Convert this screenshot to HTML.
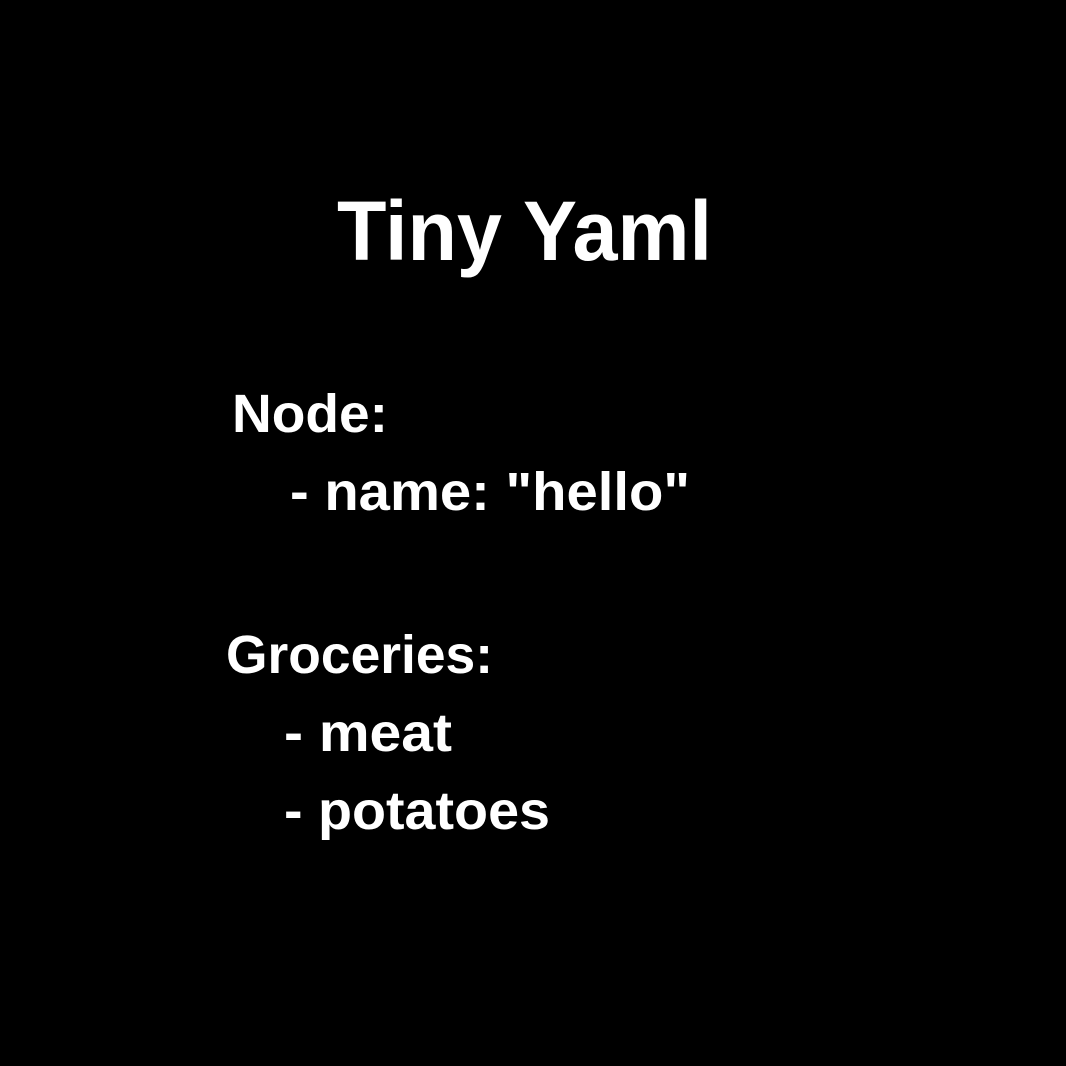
<!DOCTYPE html>
<html>
<head>
<meta charset="utf-8">
<style>
html,body{margin:0;padding:0;background:#000;}
svg{display:block;}
text{font-family:"Liberation Sans",sans-serif;font-weight:bold;fill:#fff;}
</style>
</head>
<body>
<svg width="1066" height="1066" viewBox="0 0 1066 1066" xmlns="http://www.w3.org/2000/svg">
<rect width="1066" height="1066" fill="#000"/>
<text x="337" y="260" font-size="84" textLength="375" lengthAdjust="spacingAndGlyphs">Tiny Yaml</text>
<text x="232" y="432" font-size="54" textLength="156" lengthAdjust="spacingAndGlyphs">Node:</text>
<text x="290" y="510" font-size="54" textLength="400" lengthAdjust="spacingAndGlyphs">- name: "hello"</text>
<text x="226" y="673" font-size="54" textLength="267" lengthAdjust="spacingAndGlyphs">Groceries:</text>
<text x="284" y="751" font-size="54" textLength="168" lengthAdjust="spacingAndGlyphs">- meat</text>
<text x="284" y="829" font-size="54" textLength="266" lengthAdjust="spacingAndGlyphs">- potatoes</text>
</svg>
</body>
</html>
